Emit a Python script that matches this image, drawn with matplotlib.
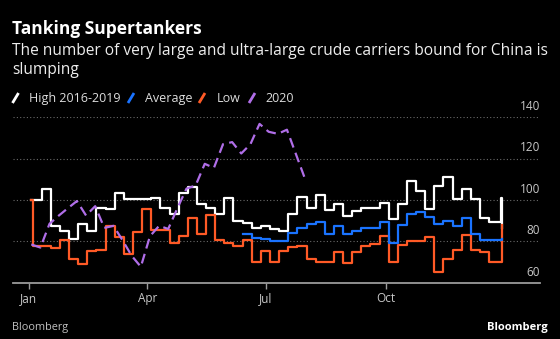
import matplotlib
matplotlib.use("Agg")
import matplotlib.pyplot as plt
from matplotlib.lines import Line2D
import numpy as np
import pandas as pd

# Weekly counts of VLCC/ULCC bound for China
weeks = pd.date_range("2020-01-04", periods=52, freq="7D")
dates = pd.DatetimeIndex([pd.Timestamp("2020-01-03")]).append(weeks).append(
    pd.DatetimeIndex([pd.Timestamp("2020-12-28"), pd.Timestamp("2020-12-29")]))

high = [100,
        100, 105.2, 87.5, 85, 81, 88.5, 85, 96.3, 95.5, 103.5,
        100.3, 100.3, 100.5, 101, 96.3, 93, 103.5, 106.3, 98.2, 96.3,
        93, 101, 89.8, 89, 86.3, 87.4, 85.8, 85, 93, 101.5,
        96.3, 102.4, 95, 97.9, 92.3, 94.7, 96.3, 96.3, 98.4, 90.6,
        98.2, 109.2, 104.4, 95.5, 106.8, 111.1, 100.3, 105.2, 100.3, 91.5,
        89.5, 89.5,
        100.8, 86.6]

low = [100,
       77.7, 77.7, 76.6, 80.5, 71.3, 69.2, 75.3, 75.6, 87.4, 82,
       73.7, 84.7, 95.5, 85.3, 85.3, 79.4, 82.6, 91.5, 83.4, 92.8,
       80.5, 79.4, 77.7, 80.5, 70.2, 75.3, 70.2, 75.3, 77.3, 77.7,
       71.3, 70.2, 70.2, 75, 69.5, 75, 77.7, 78.5, 82.6, 70.2,
       78.2, 80.2, 80.2, 82.1, 65.3, 71.3, 75.6, 83, 75.6, 75,
       70.2, 70.2,
       70.2, 88]

nan = np.nan
average = [nan,
           nan, nan, nan, nan, nan, nan, nan, nan, nan, nan,
           nan, nan, nan, nan, nan, nan, nan, nan, nan, nan,
           nan, nan, nan, 83.7, 81.8, 81, 80.2, 80.2, 84.2, 86.6,
           88.2, 89.5, 83.4, 87.4, 83.4, 85, 86.6, 86.6, 89.5, 79.4,
           88, 93, 94, 92, 88.2, 89.8, 87.4, 91.5, 83.4, 80.5,
           80.5, 80.5,
           80.5, 81]

dates_2020 = pd.date_range("2020-01-03", periods=31, freq="7D")
y2020 = [78.5, 77, 88.5, 92.4, 96, 99.5, 92.5, 97, 86.5, 87.5,
         80.5, 73, 67.7, 82.5, 87.5, 86, 96, 105.5, 107, 117.5,
         115.5, 127, 128, 122.5, 127, 136.8, 133, 132, 134, 122,
         110]

y_ticks = [60, 80, 100, 120, 140]
x_ticks = ["2020-01-01", "2020-04-01", "2020-07-01", "2020-10-01"]
x_labels = ["Jan", "Apr", "Jul", "Oct"]

c_high = "#ffffff"
c_avg = "#1a73ff"
c_low = "#ff5a26"
c_2020 = "#b06ee8"
FONT = "Open Sans"

fig = plt.figure(figsize=(5.6, 3.39), dpi=100, facecolor="black")
ax = fig.add_axes([13 / 560, 1 - 282.7 / 339, 527 / 560, 165.4 / 339])
ax.set_facecolor("black")

ax.plot(dates, high, color=c_high, lw=1.6, drawstyle="steps-post", zorder=3)
ax.plot(dates, average, color=c_avg, lw=1.6, drawstyle="steps-post", zorder=4)
ax.plot(dates, low, color=c_low, lw=1.6, drawstyle="steps-post", zorder=3)
ax.plot(dates_2020, y2020, color=c_2020, lw=1.6, dashes=(4.5, 2.5), zorder=5)

ax.set_xlim(pd.Timestamp("2019-12-20"), pd.Timestamp("2021-01-27"))
ax.set_ylim(60, 140)

# grid + right-side labels sitting above the lines
for v in y_ticks[1:]:
    ax.axhline(v, color="#6a6a6a", lw=0.8, ls=(0, (1, 2)), zorder=1)
for v in y_ticks:
    ax.annotate(str(v), xy=(1, v), xycoords=("axes fraction", "data"),
                xytext=(0, 3), textcoords="offset points",
                ha="right", va="bottom", color="#c8c8c8", fontsize=8.5, family=FONT)
ax.set_yticks([])

ax.set_xticks(pd.to_datetime(x_ticks))
ax.set_xticklabels(x_labels, family=FONT)
ax.tick_params(axis="x", colors="#9a9a9a", length=4, width=1, labelsize=8.5,
               labelcolor="#c8c8c8", pad=3)
for side in ["top", "right", "left"]:
    ax.spines[side].set_visible(False)
ax.spines["bottom"].set_color("#9a9a9a")
ax.spines["bottom"].set_linewidth(1.3)

# titles
fig.text(12 / 560, 1 - 34 / 339, "Tanking Supertankers", color="white",
         fontsize=12.5, fontweight="bold", family=FONT, va="baseline")
fig.text(12 / 560, 1 - 55 / 339,
         "The number of very large and ultra-large crude carriers bound for China is",
         color="#eeeeee", fontsize=11.2, family=FONT, va="baseline")
fig.text(12 / 560, 1 - 74 / 339, "slumping", color="#eeeeee", fontsize=11.2,
         family=FONT, va="baseline")

# legend
legend_items = [("High 2016-2019", c_high, 12.5, 29),
                ("Average", c_avg, 128, 145),
                ("Low", c_low, 199, 217),
                ("2020", c_2020, 249, 265)]
for label, color, sx, tx in legend_items:
    fig.add_artist(Line2D([sx / 560, (sx + 6) / 560],
                          [1 - 103 / 339, 1 - 93 / 339],
                          color=color, lw=2, solid_capstyle="butt"))
    fig.text(tx / 560, 1 - 102 / 339, label, color="#dddddd", fontsize=9,
             family=FONT, va="baseline")

fig.text(12 / 560, 1 - 330 / 339, "Bloomberg", color="#c0c0c0", fontsize=7.8,
         family=FONT, va="baseline")
fig.text(548 / 560, 1 - 330 / 339, "Bloomberg", color="white", fontsize=8,
         fontweight="bold", family=FONT, va="baseline", ha="right")

fig.savefig("out.png", dpi=100, facecolor="black")
